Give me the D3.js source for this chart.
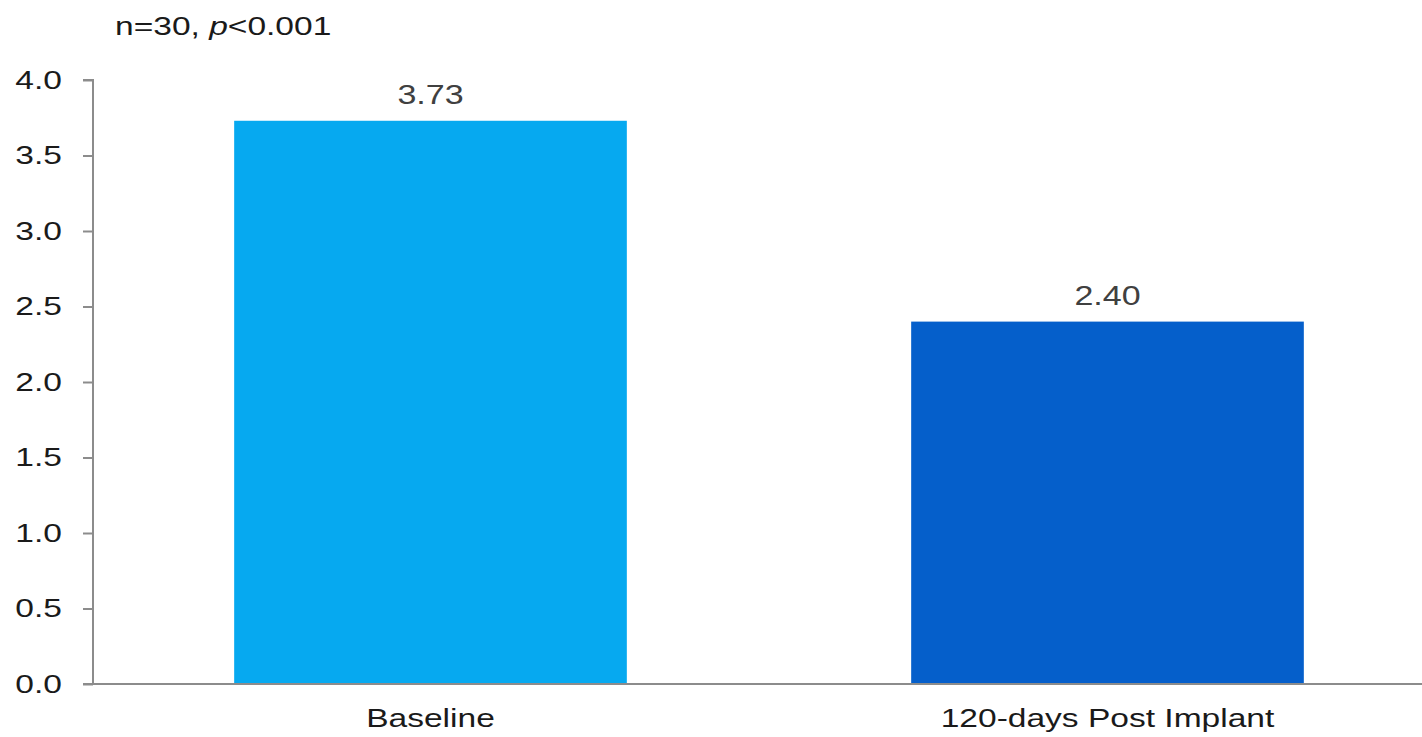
<!DOCTYPE html>
<html>
<head>
<meta charset="utf-8">
<script src="https://cdn.jsdelivr.net/npm/d3@7/dist/d3.min.js"></script>
<style>
  html, body { margin: 0; padding: 0; background: #fff; }
  svg { display: block; font-family: "Liberation Sans", Arial, sans-serif; }
</style>
</head>
<body>
<svg id="chart" width="1422" height="737"></svg>
<script>
// Mean score at baseline and 120 days after implant
const categories = ["Baseline", "120-days Post Implant"];
const values = [3.73, 2.40];
const valueLabels = ["3.73", "2.40"];
const barColors = ["#06A9F0", "#055FCB"];
const yTicks = [0, 0.5, 1.0, 1.5, 2.0, 2.5, 3.0, 3.5, 4.0];

const svg = d3.select("#chart");
const W = 1422, H = 737;
const plotLeft = 93, plotTop = 80, plotBottom = 684;
const FONT = 26;
const SX = 1.29; // wide letterforms

const y = d3.scaleLinear().domain([0, 4]).range([plotBottom, plotTop]);
const x = d3.scaleBand().domain(categories).range([92, 1446]).paddingInner(0.42).paddingOuter(0.21);

// Bars
svg.append("g").selectAll("rect")
  .data(categories)
  .join("rect")
  .attr("x", d => x(d))
  .attr("width", x.bandwidth())
  .attr("y", (d, i) => y(values[i]))
  .attr("height", (d, i) => y(0) - y(values[i]))
  .attr("fill", (d, i) => barColors[i]);

// Value labels
svg.append("g").selectAll("text")
  .data(categories)
  .join("text")
  .attr("transform", (d, i) => `translate(${x(d) + x.bandwidth() / 2},${y(values[i]) - 17}) scale(1.26,1)`)
  .attr("text-anchor", "middle")
  .attr("font-size", 27)
  .attr("fill", "#404040")
  .text((d, i) => valueLabels[i]);

// Y axis
const yAxis = d3.axisLeft(y)
  .tickValues(yTicks)
  .tickFormat(d3.format(".1f"))
  .tickSize(10)
  .tickPadding(21);
const gy = svg.append("g").attr("transform", `translate(${plotLeft},0)`).call(yAxis);
gy.select(".domain").attr("stroke", "#8c8c8c").attr("stroke-width", 2)
  .attr("d", `M-10,${plotTop}H0V${plotBottom}`);
gy.selectAll(".tick line").attr("stroke", "#8c8c8c").attr("stroke-width", 2);
gy.selectAll(".tick text")
  .attr("transform", `translate(-31,0) scale(${SX},1)`)
  .attr("x", 0)
  .attr("font-size", FONT)
  .attr("fill", "#1a1a1a")
  .attr("font-family", "'Liberation Sans', Arial, sans-serif");

// X axis baseline
const xAxis = d3.axisBottom(x).tickSize(0).tickPadding(25);
const gx = svg.append("g").attr("transform", `translate(0,${plotBottom})`).call(xAxis);
gx.select(".domain").attr("stroke", "#8c8c8c").attr("stroke-width", 2)
  .attr("d", `M${plotLeft - 10},0H${W}`);
gx.selectAll(".tick text")
  .attr("transform", `scale(${SX},1)`)
  .attr("font-size", FONT)
  .attr("fill", "#1a1a1a")
  .attr("font-family", "'Liberation Sans', Arial, sans-serif");

// Sample size and significance note
const note = svg.append("text")
  .attr("transform", `translate(115,35) scale(${SX},1)`)
  .attr("font-size", FONT)
  .attr("fill", "#1a1a1a");
note.append("tspan").text("n=30, ");
note.append("tspan").attr("font-style", "italic").text("p");
note.append("tspan").text("<0.001");
</script>
</body>
</html>
